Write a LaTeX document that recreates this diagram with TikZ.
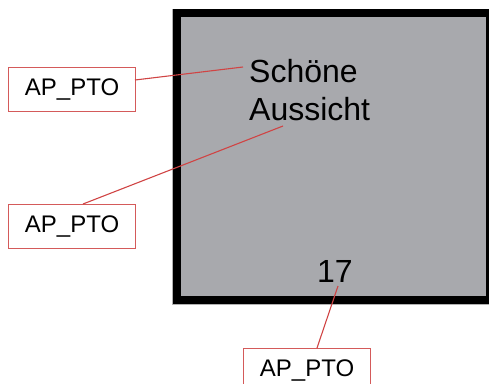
\documentclass[tikz,border=0pt]{standalone}
\usepackage{fontspec}
\setmainfont{Liberation Sans}
\definecolor{fillgray}{RGB}{168,169,173}
\definecolor{linered}{RGB}{208,68,68}
\definecolor{boxred}{RGB}{212,90,90}
\begin{document}
\begin{tikzpicture}[x=1pt,y=-1pt,
  lbl/.style={draw=boxred,line width=1.2pt,fill=white,minimum width=127pt,minimum height=44pt,inner sep=0pt,anchor=north west,font=\fontsize{24}{28}\selectfont},
  conn/.style={draw=linered,line width=1.1pt},
  bigtext/.style={inner sep=0pt,anchor=base west,font=\fontsize{32}{38}\selectfont}]
\useasboundingbox (0,0) rectangle (489,383);
\begin{scope}
\clip (0,0) rectangle (489,383);
% square
\draw[draw=gray!60,line width=1pt,fill=fillgray] (172.8,9.3) rectangle (494.5,304.3);
\draw[black,line width=8pt] (176.5,13.3) rectangle (490.2,299.8);
% texts
\node[bigtext] (t1) at (249,82) {Schöne};
\node[bigtext] (t2) at (249,120) {Aussicht};
\node[bigtext] (t3) at (317,282) {17};
\coordinate (c1) at (243,67);
\coordinate (c2) at (283,126);
\coordinate (c3) at (338,286);
% label boxes
\node[lbl] (b1) at (8,67) {AP\_PTO};
\node[lbl] (b2) at (8,204) {AP\_PTO};
\node[lbl] (b3) at (243,348) {AP\_PTO};
\coordinate (e1) at (135,80);
\coordinate (e2) at (83,204);
\coordinate (e3) at (317,348);
\draw[conn] (e1) -- (c1);
\draw[conn] (e2) -- (c2);
\draw[conn] (e3) -- (c3);
\end{scope}
\end{tikzpicture}
\end{document}
